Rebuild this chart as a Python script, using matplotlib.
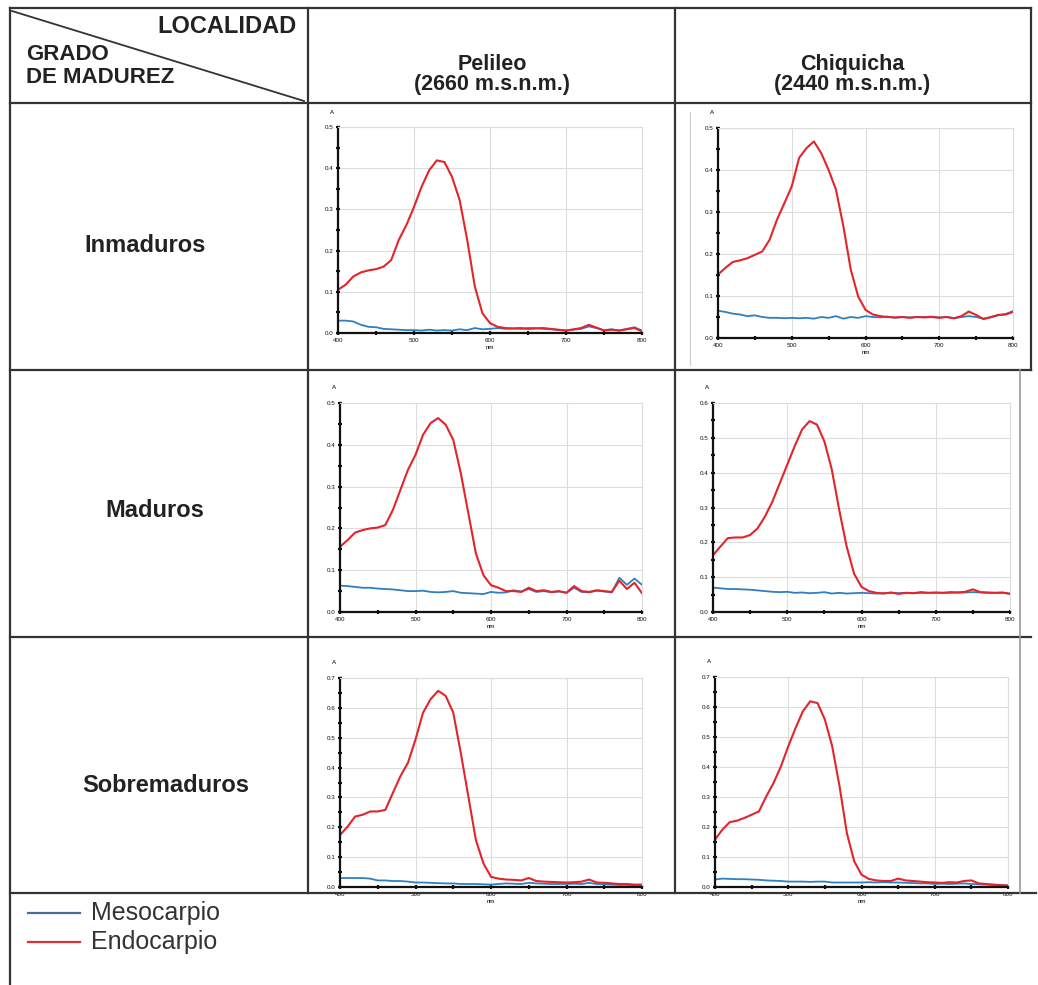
import matplotlib
matplotlib.use('Agg')
import matplotlib.pyplot as plt
from matplotlib.lines import Line2D
from matplotlib.ticker import MultipleLocator
import numpy as np

plt.rcParams['font.family'] = ['Liberation Sans', 'DejaVu Sans']

W, H = 1038, 985

wl = list(range(400, 801, 10))

# Pelileo - Inmaduros
p_inm_endo = [.105, .117, .137, .147, .152, .155, .161, .177, .226, .262,
              .306, .355, .395, .419, .415, .379, .323, .226, .113, .048,
              .024, .015, .012, .011, .012, .010, .011, .012, .010, .008,
              .006, .009, .012, .020, .013, .006, .008, .006, .009, .012,
              .004]
p_inm_meso = [.030, .030, .028, .020, .015, .014, .010, .009, .008, .007,
              .007, .006, .008, .006, .007, .006, .009, .007, .012, .009,
              .010, .012, .010, .011, .010, .012, .012, .010, .009, .007,
              .006, .008, .010, .016, .012, .007, .009, .006, .010, .014,
              .006]
# Chiquicha - Inmaduros
c_inm_endo = [.151, .167, .181, .185, .190, .198, .206, .234, .282, .321,
              .361, .429, .452, .468, .440, .400, .353, .266, .163, .099,
              .067, .056, .052, .050, .049, .050, .048, .050, .049, .050,
              .048, .050, .047, .052, .063, .055, .045, .050, .055, .056,
              .062]
c_inm_meso = [.065, .062, .058, .056, .052, .054, .050, .048, .048, .047,
              .048, .047, .048, .046, .050, .048, .052, .046, .050, .048,
              .052, .050, .049, .051, .048, .050, .049, .050, .050, .051,
              .049, .050, .047, .050, .052, .050, .046, .049, .054, .057,
              .064]
# Pelileo - Maduros
p_mad_endo = [.156, .172, .190, .196, .200, .202, .208, .244, .292, .340,
              .376, .424, .452, .464, .448, .412, .332, .236, .140, .088,
              .064, .058, .050, .050, .048, .058, .050, .052, .048, .050,
              .046, .062, .050, .048, .052, .050, .048, .075, .055, .070,
              .045]
p_mad_meso = [.063, .062, .060, .058, .058, .056, .055, .054, .052, .050,
              .050, .051, .048, .047, .048, .050, .046, .045, .044, .043,
              .048, .046, .047, .052, .049, .055, .048, .050, .047, .049,
              .046, .058, .048, .047, .051, .049, .047, .082, .065, .080,
              .065]
# Chiquicha - Maduros
c_mad_endo = [.163, .188, .212, .214, .214, .221, .240, .274, .317, .370,
              .423, .476, .524, .548, .538, .490, .409, .293, .188, .110,
              .072, .060, .055, .053, .056, .052, .055, .054, .057, .055,
              .056, .055, .057, .056, .058, .065, .057, .056, .055, .056,
              .052]
c_mad_meso = [.070, .068, .066, .066, .065, .064, .062, .060, .058, .057,
              .058, .055, .056, .054, .055, .057, .053, .055, .053, .054,
              .055, .054, .053, .054, .055, .054, .055, .054, .055, .055,
              .055, .055, .055, .056, .056, .057, .056, .055, .055, .055,
              .053]
# Pelileo - Sobremaduros
p_sob_endo = [.174, .202, .236, .242, .253, .253, .258, .315, .371, .416,
              .494, .584, .629, .657, .640, .584, .449, .303, .157, .079,
              .034, .028, .025, .024, .022, .030, .020, .018, .017, .016,
              .015, .016, .018, .025, .015, .014, .012, .010, .010, .008,
              .008]
p_sob_meso = [.030, .030, .030, .030, .028, .022, .022, .020, .020, .018,
              .015, .015, .014, .013, .012, .012, .010, .010, .010, .009,
              .008, .010, .012, .011, .010, .014, .012, .011, .010, .010,
              .010, .011, .010, .014, .010, .009, .008, .007, .007, .006,
              .005]
# Chiquicha - Sobremaduros
c_sob_endo = [.158, .191, .216, .221, .230, .241, .252, .302, .347, .402,
              .469, .530, .586, .619, .613, .558, .469, .336, .180, .086,
              .041, .027, .022, .020, .020, .028, .022, .020, .018, .016,
              .015, .014, .016, .015, .020, .022, .012, .010, .008, .006,
              .005]
c_sob_meso = [.025, .028, .027, .026, .026, .025, .024, .022, .021, .020,
              .018, .018, .018, .017, .018, .018, .015, .015, .015, .015,
              .015, .016, .015, .016, .015, .015, .014, .013, .012, .012,
              .010, .011, .010, .011, .012, .010, .009, .008, .007, .006,
              .005]

localidades = ['Pelileo', 'Chiquicha']
altitudes = ['(2660 m.s.n.m.)', '(2440 m.s.n.m.)']
grados = ['Inmaduros', 'Maduros', 'Sobremaduros']
series_names = ['Mesocarpio', 'Endocarpio']

BLUE = '#2f7fc1'
RED = '#e3242b'

fig = plt.figure(figsize=(W / 100, H / 100), dpi=100)


def fx(x):
    return x / W


def fy(y):
    return 1 - y / H


def hline(y, x0, x1, c='#333333', lw=1.6):
    fig.add_artist(Line2D([fx(x0), fx(x1)], [fy(y), fy(y)], color=c, lw=lw))


def vline(x, y0, y1, c='#333333', lw=1.6):
    fig.add_artist(Line2D([fx(x), fx(x)], [fy(y0), fy(y1)], color=c, lw=lw))


# table grid
hline(8, 10, 1031)
hline(103, 10, 1031)
hline(370, 10, 1031)
hline(637, 10, 1031)
hline(893, 10, 1036)
vline(10, 8, 985)
vline(308, 8, 893)
vline(675, 8, 893)
vline(1031, 8, 370)
vline(1020, 370, 893, c='#999999', lw=1.2)
vline(690, 112, 365, c='#cccccc', lw=0.8)
fig.add_artist(Line2D([fx(12), fx(304)], [fy(11), fy(101)], color='#333333', lw=1.3))

# header texts (baseline positions)
hfont = dict(fontweight='bold', color='#222222', va='baseline')
fig.text(fx(297), fy(33), 'LOCALIDAD', ha='right', fontsize=17, **hfont)
fig.text(fx(26), fy(60), 'GRADO', ha='left', fontsize=16, **hfont)
fig.text(fx(26), fy(83), 'DE MADUREZ', ha='left', fontsize=16, **hfont)
for name, alt, xc in zip(localidades, altitudes, [492, 852]):
    fig.text(fx(xc), fy(70), name, ha='center', fontsize=15.5, **hfont)
    fig.text(fx(xc), fy(90), alt, ha='center', fontsize=15.5, **hfont)
for g, xc, yc in zip(grados, [145, 155, 166], [252, 517, 792]):
    fig.text(fx(xc), fy(yc), g, ha='center', fontsize=17, **hfont)

# panels: (left, top, right, bottom) in px, ymax, data
panels = [
    ((338, 127, 642, 333), 0.5, p_inm_meso, p_inm_endo),
    ((718, 128, 1013, 338), 0.5, c_inm_meso, c_inm_endo),
    ((340, 403, 642, 612), 0.5, p_mad_meso, p_mad_endo),
    ((713, 403, 1010, 612), 0.6, c_mad_meso, c_mad_endo),
    ((340, 678, 642, 887), 0.7, p_sob_meso, p_sob_endo),
    ((715, 677, 1008, 887), 0.7, c_sob_meso, c_sob_endo),
]

for (l, t, r, b), ymax, meso, endo in panels:
    ax = fig.add_axes([fx(l), fy(b), (r - l) / W, (b - t) / H])
    ax.plot(wl, meso, color=BLUE, lw=1.3)
    ax.plot(wl, endo, color=RED, lw=1.5)
    ax.set_xlim(400, 800)
    ax.set_ylim(0, ymax)
    ax.xaxis.set_minor_locator(MultipleLocator(50))
    ax.yaxis.set_minor_locator(MultipleLocator(0.05))
    ax.set_xticks(range(400, 801, 100))
    ax.set_xticklabels([str(v) for v in range(400, 801, 100)])
    yt = np.round(np.arange(0, ymax + 0.001, 0.1), 1)
    ax.set_yticks(yt)
    ax.set_yticklabels(['%.1f' % v for v in yt])
    ax.grid(True, which='major', color='#dcdcdc', lw=0.8)
    ax.set_axisbelow(True)
    for s in ['top', 'right']:
        ax.spines[s].set_color('#dcdcdc')
        ax.spines[s].set_linewidth(0.8)
    for s in ['left', 'bottom']:
        ax.spines[s].set_color('#111111')
        ax.spines[s].set_linewidth(1.6)
    ax.tick_params(which='both', direction='inout', length=2.5, width=1.6,
                   labelsize=4.5, pad=2, colors='#111111')
    ax.set_xlabel('nm', fontsize=4.5, labelpad=2)
    ax.text(-0.02, 1.06, 'A', transform=ax.transAxes, fontsize=4.5, ha='center', va='bottom')

# legend row
legend_colors = ['#4a6a9c', '#d8313a']
for name, c, yc in zip(series_names, legend_colors, [913, 942]):
    fig.add_artist(Line2D([fx(28), fx(80)], [fy(yc), fy(yc)], color=c, lw=1.6))
    fig.text(fx(91), fy(yc), name, ha='left', va='center', fontsize=18, color='#333333')

fig.savefig('out.png', dpi=100)
